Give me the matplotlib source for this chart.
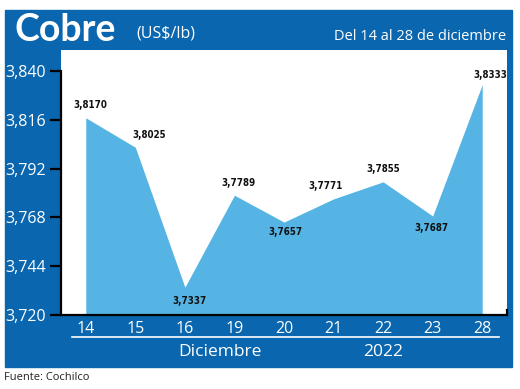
import matplotlib.pyplot as plt
from matplotlib.patches import Rectangle

dias = ['14', '15', '16', '19', '20', '21', '22', '23', '28']
precios = [3.8170, 3.8025, 3.7337, 3.7789, 3.7657, 3.7771, 3.7855, 3.7687, 3.8333]
etiquetas = ['3,8170', '3,8025', '3,7337', '3,7789', '3,7657', '3,7771', '3,7855', '3,7687', '3,8333']
# desplazamiento de cada etiqueta (puntos)
offs = [(3, 9), (10, 9), (3, -10), (3, 9), (1, -7), (-6, 9), (0, 9), (-1, -9), (6, 7)]
yticks = [3.720, 3.744, 3.768, 3.792, 3.816, 3.840]

azul = '#0A66AE'
celeste = '#55B4E3'
fuente = 'Open Sans'

W, H = 520, 389
fig = plt.figure(figsize=(W / 100, H / 100), dpi=100)
fig.patch.set_facecolor('white')

# panel azul de fondo
fig.patches.append(Rectangle((5 / W, 1 - 367 / H), 507 / W, 357 / H,
                             transform=fig.transFigure, color=azul, zorder=0))

ax = fig.add_axes([61 / W, 1 - 315 / H, 446 / W, 265 / H])
ax.set_zorder(2)
ax.set_facecolor('white')
x = range(len(dias))
ax.fill_between(x, 3.72, precios, color=celeste, lw=0, zorder=1)
ax.set_xlim(-0.5, 8.5)
ax.set_ylim(3.720, 3.720 + 0.12 * 265 / 244)

for i, (v, t) in enumerate(zip(precios, etiquetas)):
    ax.annotate(t, (i, v), xytext=offs[i], textcoords='offset points',
                ha='center', va='center', fontsize=7, fontweight='bold',
                fontstretch='condensed', color='#111111', family='DejaVu Sans')

ax.set_xticks(list(x))
ax.set_xticklabels(dias, color='white', fontsize=11.5, family=fuente)
ax.set_yticks(yticks)
ax.set_yticklabels([f'{v:.3f}'.replace('.', ',') for v in yticks],
                   color='white', fontsize=11.5, family=fuente)
ax.tick_params(axis='x', length=0, pad=4)
ax.tick_params(axis='y', length=8, width=1.6, color='black', pad=3)
ax.spines['top'].set_visible(False)
ax.spines['left'].set_bounds(3.72, 3.84)
ax.spines['right'].set_bounds(3.72, 3.7225)
for s in ['left', 'bottom', 'right']:
    ax.spines[s].set_linewidth(1.6)
    ax.spines[s].set_color('black')

# textos de cabecera
fig.text(14 / W, 1 - 30 / H, 'Cobre', color='white', fontsize=27,
         family='Lato', fontweight='bold', va='center')
fig.text(136 / W, 1 - 34 / H, '(US$/lb)', color='white', fontsize=11.5,
         family=fuente, va='center')
fig.text(506 / W, 1 - 36 / H, 'Del 14 al 28 de diciembre', color='white',
         fontsize=10.5, family=fuente, ha='right', va='center')

# banda inferior
fig.add_artist(plt.Line2D([72 / W, 499 / W], [1 - 337 / H] * 2,
                          color='white', lw=1.2, transform=fig.transFigure))
fig.text(220 / W, 1 - 352 / H, 'Diciembre', color='white', fontsize=12.5,
         family=fuente, ha='center', va='center')
fig.text(383 / W, 1 - 352 / H, '2022', color='white', fontsize=12.5,
         family=fuente, ha='center', va='center')
fig.text(4 / W, 1 - 378 / H, 'Fuente: Cochilco', color='#222222', fontsize=8,
         family=fuente, va='center')

fig.savefig('out.png', dpi=100)
